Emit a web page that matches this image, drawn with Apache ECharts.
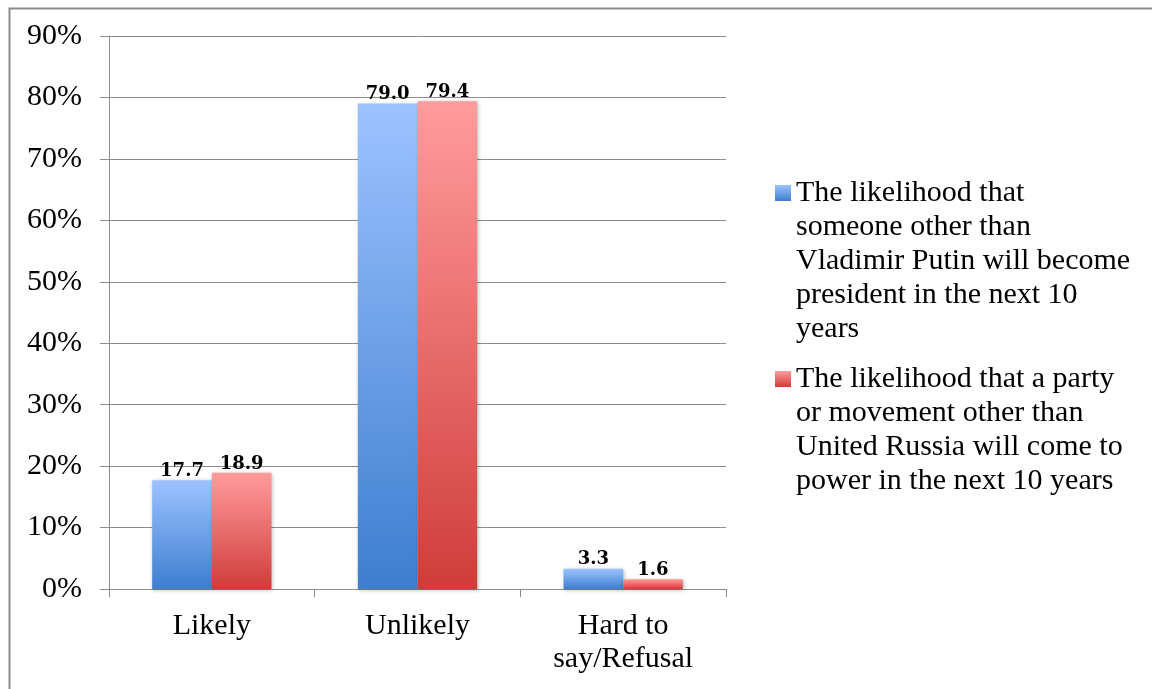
<!DOCTYPE html>
<html>
<head>
<meta charset="utf-8">
<script src="https://cdn.jsdelivr.net/npm/echarts@6/dist/echarts.min.js"></script>
<style>
html,body{margin:0;padding:0;background:#fff;}
#chart{width:1152px;height:689px;}
</style>
</head>
<body>
<div id="chart"></div>
<script>
const categories = ['Likely', 'Unlikely', 'Hard to say/Refusal'];
const seriesNames = [
  'The likelihood that someone other than Vladimir Putin will become president in the next 10 years',
  'The likelihood that a party or movement other than United Russia will come to power in the next 10 years'
];
const putinValues = [17.7, 79.0, 3.3];
const partyValues = [18.9, 79.4, 1.6];
const yTicks = [0, 10, 20, 30, 40, 50, 60, 70, 80, 90];

const legendLines = {};
legendLines[seriesNames[0]] = 'The likelihood that\nsomeone other than\nVladimir Putin will become\npresident in the next 10\nyears';
legendLines[seriesNames[1]] = 'The likelihood that a party\nor movement other than\nUnited Russia will come to\npower in the next 10 years\n ';

function grad(top, bottom) {
  return new echarts.graphic.LinearGradient(0, 0, 0, 1, [
    {offset: 0, color: top}, {offset: 1, color: bottom}
  ]);
}
function iconGrad(top, bottom) {
  return new echarts.graphic.LinearGradient(0, 0, 0, 1, [
    {offset: 0, color: top}, {offset: 9/170, color: top},
    {offset: 25/170, color: bottom}, {offset: 1, color: bottom}
  ]);
}
const BLUE_TOP = '#9dc3ff', BLUE_BOT = '#3d7ecf';
const RED_TOP = '#ff9c9c', RED_BOT = '#cf3d3a';
const iconPath = 'path://M0,0 L0.01,0 M0,9 L16,9 L16,25 L0,25 Z M0,170 L0.01,170';
const serif = 'Liberation Serif';
const grey = '#8c8c8c';

const chart = echarts.init(document.getElementById('chart'), null, {renderer: 'canvas'});

const labelCfg = {
  show: true,
  position: 'top',
  distance: 0,
  fontFamily: 'DejaVu Serif',
  fontWeight: 'bold',
  fontSize: 18,
  color: '#000',
  formatter: p => Number(p.value).toFixed(1)
};
const shadowCfg = {shadowBlur: 4, shadowColor: 'rgba(0,0,0,0.3)', shadowOffsetX: 1, shadowOffsetY: 1};

chart.setOption({
  backgroundColor: '#fff',
  animation: false,
  graphic: [{
    type: 'rect', left: 7, top: 6, z: -10,
    shape: {x: 0, y: 0, width: 1400, height: 900},
    style: {fill: 'none', stroke: grey, lineWidth: 2}
  }],
  grid: {left: 109, right: 426, top: 36, bottom: 100, containLabel: false},
  legend: {
    orient: 'vertical',
    left: 770,
    top: 171,
    itemWidth: 16,
    itemHeight: 170,
    itemGap: 16,
    selectedMode: false,
    data: [
      {name: seriesNames[0], icon: iconPath, itemStyle: {color: iconGrad(BLUE_TOP, BLUE_BOT)}},
      {name: seriesNames[1], icon: iconPath, itemStyle: {color: iconGrad(RED_TOP, RED_BOT)}}
    ],
    formatter: name => legendLines[name],
    textStyle: {fontFamily: serif, fontSize: 30, lineHeight: 34, color: '#000'}
  },
  xAxis: {
    type: 'category',
    data: categories,
    axisLine: {lineStyle: {color: grey, width: 1}},
    axisTick: {show: true, length: 8, lineStyle: {color: grey}},
    axisLabel: {
      margin: 21,
      fontFamily: serif, fontSize: 30, lineHeight: 33, color: '#000',
      formatter: v => v.replace('Hard to ', 'Hard to\n')
    }
  },
  yAxis: {
    type: 'value',
    min: yTicks[0],
    max: yTicks[yTicks.length - 1],
    interval: yTicks[1] - yTicks[0],
    axisLine: {show: true, lineStyle: {color: grey, width: 1}},
    axisTick: {show: true, length: 9, lineStyle: {color: grey}},
    splitLine: {lineStyle: {color: grey, width: 1}},
    axisLabel: {margin: 27, fontFamily: serif, fontSize: 30, color: '#000', formatter: '{value}%'}
  },
  series: [
    {
      name: seriesNames[0], type: 'bar', data: putinValues,
      barGap: '0%', barCategoryGap: '42%',
      itemStyle: Object.assign({color: grad(BLUE_TOP, BLUE_BOT)}, shadowCfg),
      label: labelCfg
    },
    {
      name: seriesNames[1], type: 'bar', data: partyValues,
      barGap: '0%', barCategoryGap: '42%',
      itemStyle: Object.assign({color: grad(RED_TOP, RED_BOT)}, shadowCfg),
      label: labelCfg
    }
  ]
});
</script>
</body>
</html>
